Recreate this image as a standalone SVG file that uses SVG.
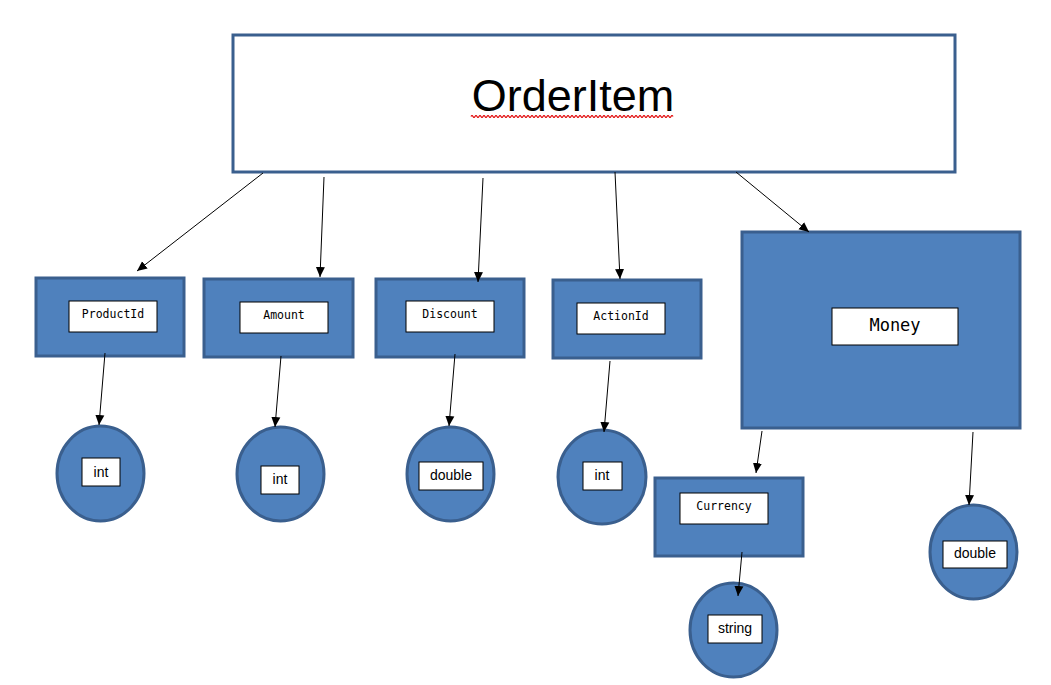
<svg xmlns="http://www.w3.org/2000/svg" width="1051" height="685" viewBox="0 0 1051 685">
<style>
.shape{fill:#4F81BD;stroke:#3A5F8E;stroke-width:3}
.lbl{fill:#fff;stroke:#000;stroke-width:1}
.mono{font-family:"DejaVu Sans Mono","Liberation Mono",monospace;font-size:11.5px;fill:#000;text-anchor:middle}
.sans{font-family:"Liberation Sans",Arial,sans-serif;font-size:14px;fill:#000;text-anchor:middle}
.conn line{stroke:#000;stroke-width:1;marker-end:url(#ah)}
</style>
<defs>
<marker id="ah" markerUnits="userSpaceOnUse" markerWidth="10" markerHeight="10" viewBox="0 0 10 10" refX="10" refY="5" orient="auto">
<path d="M0,0.5 L10,5 L0,9.5 z" fill="#000"/>
</marker>
</defs>
<rect width="1051" height="685" fill="#fff"/>
<g id="OrderItem">
<rect x="233" y="35" width="722" height="137" fill="#fff" stroke="#3A5F8E" stroke-width="3"/>
<text x="573" y="111" font-family="Liberation Sans,Arial,sans-serif" font-size="45" text-anchor="middle" fill="#000">OrderItem</text>
<path d="M471,116.5 q1,-2 2,0 t2,0 t2,0 t2,0 t2,0 t2,0 t2,0 t2,0 t2,0 t2,0 t2,0 t2,0 t2,0 t2,0 t2,0 t2,0 t2,0 t2,0 t2,0 t2,0 t2,0 t2,0 t2,0 t2,0 t2,0 t2,0 t2,0 t2,0 t2,0 t2,0 t2,0 t2,0 t2,0 t2,0 t2,0 t2,0 t2,0 t2,0 t2,0 t2,0 t2,0 t2,0 t2,0 t2,0 t2,0 t2,0 t2,0 t2,0 t2,0 t2,0 t2,0 t2,0 t2,0 t2,0 t2,0 t2,0 t2,0 t2,0 t2,0 t2,0 t2,0 t2,0 t2,0 t2,0 t2,0 t2,0 t2,0 t2,0 t2,0 t2,0 t2,0 t2,0 t2,0 t2,0 t2,0 t2,0 t2,0 t2,0 t2,0 t2,0 t2,0 t2,0 t2,0 t2,0 t2,0 t2,0 t2,0 t2,0 t2,0 t2,0 t2,0 t2,0 t2,0 t2,0 t2,0 t2,0 t2,0 t2,0 t2,0 t2,0 t2,0" fill="none" stroke="#E00000" stroke-width="1.2"/>
</g>
<g id="ProductId">
<rect class="shape" x="36" y="278" width="148" height="78"/>
<rect class="lbl" x="69" y="301" width="88" height="31"/>
<text class="mono" x="113" y="318">ProductId</text>
</g>
<g id="Amount">
<rect class="shape" x="204" y="279" width="149" height="78"/>
<rect class="lbl" x="240" y="302" width="88" height="31"/>
<text class="mono" x="284" y="319">Amount</text>
</g>
<g id="Discount">
<rect class="shape" x="376" y="279" width="148" height="78"/>
<rect class="lbl" x="406" y="301" width="88" height="31"/>
<text class="mono" x="450" y="318">Discount</text>
</g>
<g id="ActionId">
<rect class="shape" x="553" y="280" width="148" height="78"/>
<rect class="lbl" x="577" y="303" width="88" height="31"/>
<text class="mono" x="621" y="320">ActionId</text>
</g>
<g id="Money">
<rect class="shape" x="742" y="232" width="278" height="196"/>
<rect class="lbl" x="832" y="308" width="126" height="37"/>
<text class="mono" x="895" y="331" style="font-size:17px">Money</text>
</g>
<g id="Currency">
<rect class="shape" x="655" y="478" width="148" height="78"/>
<rect class="lbl" x="680" y="493" width="88" height="31"/>
<text class="mono" x="724" y="510">Currency</text>
</g>
<g id="int1">
<ellipse class="shape" cx="100.5" cy="473.5" rx="43.5" ry="47.5"/>
<rect class="lbl" x="82" y="458" width="38" height="28"/>
<text class="sans" x="101" y="477">int</text>
</g>
<g id="int2">
<ellipse class="shape" cx="280.5" cy="474" rx="43.5" ry="47"/>
<rect class="lbl" x="261" y="466" width="38" height="28"/>
<text class="sans" x="280" y="484">int</text>
</g>
<g id="double1">
<ellipse class="shape" cx="450.5" cy="474" rx="43.5" ry="47"/>
<rect class="lbl" x="419" y="462" width="64" height="28"/>
<text class="sans" x="451" y="480">double</text>
</g>
<g id="int3">
<ellipse class="shape" cx="602" cy="477" rx="44" ry="47"/>
<rect class="lbl" x="583" y="462" width="39" height="28"/>
<text class="sans" x="602" y="480">int</text>
</g>
<g id="string">
<ellipse class="shape" cx="733.5" cy="630" rx="43.5" ry="47"/>
<rect class="lbl" x="708" y="615" width="54" height="28"/>
<text class="sans" x="735" y="633">string</text>
</g>
<g id="double2">
<ellipse class="shape" cx="973.5" cy="552" rx="43.5" ry="47"/>
<rect class="lbl" x="943" y="541" width="64" height="27"/>
<text class="sans" x="975" y="558">double</text>
</g>
<g id="connectors" class="conn">
<line x1="263" y1="173" x2="137" y2="271"/>
<line x1="324" y1="177" x2="320" y2="277"/>
<line x1="483" y1="178" x2="478" y2="282"/>
<line x1="615" y1="172" x2="620" y2="279"/>
<line x1="736" y1="172" x2="809" y2="232"/>
<line x1="105" y1="353" x2="99" y2="425"/>
<line x1="281" y1="356" x2="275" y2="427"/>
<line x1="455" y1="354" x2="449" y2="426"/>
<line x1="610" y1="361" x2="604" y2="432"/>
<line x1="762" y1="431" x2="756" y2="473"/>
<line x1="973" y1="432" x2="969" y2="505"/>
<line x1="742" y1="552" x2="738" y2="596"/>
</g>
</svg>
